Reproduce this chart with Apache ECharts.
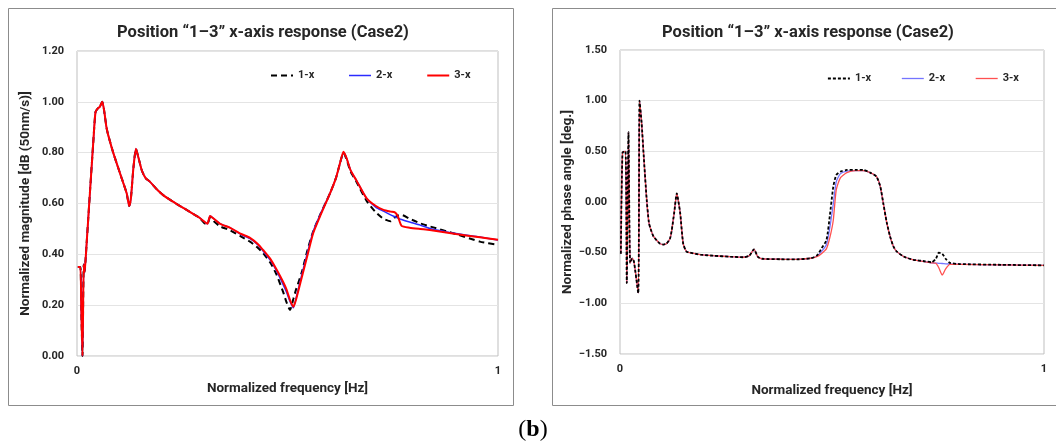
<!DOCTYPE html>
<html>
<head>
<meta charset="utf-8">
<script src="https://cdn.jsdelivr.net/npm/echarts@6/dist/echarts.min.js"></script>
<style>
html,body{margin:0;padding:0;background:#fff;}
#c{width:1056px;height:443px;}
</style>
</head>
<body>
<div id="c"></div>
<script>
// ---------- DATA ----------
const titleText = 'Position \u201C1\u20133\u201D x-axis response (Case2)';
const seriesNames = ['1-x', '2-x', '3-x'];

// Left chart: normalized magnitude
const magFreq = [0.002,0.008,0.010,0.013,0.016,0.018,0.020,0.031,0.039,0.044,0.050,0.054,0.060,0.064,0.070,0.074,0.086,0.106,0.118,0.124,0.128,0.134,0.140,0.146,0.154,0.163,0.173,0.190,0.204,0.225,0.245,0.270,0.290,0.305,0.310,0.316,0.325,0.340,0.363,0.390,0.411,0.430,0.442,0.460,0.474,0.490,0.498,0.506,0.514,0.520,0.534,0.548,0.561,0.580,0.601,0.615,0.625,0.633,0.640,0.650,0.664,0.688,0.710,0.728,0.745,0.755,0.762,0.771,0.790,0.815,0.838,0.900,0.957,1.000];
const mag1x = [0.35,0.35,0.20,0.00,0.36,0.33,0.37,0.65,0.85,0.96,0.975,0.98,1.00,0.97,0.90,0.87,0.80,0.70,0.64,0.59,0.62,0.74,0.815,0.78,0.73,0.70,0.686,0.655,0.634,0.61,0.59,0.565,0.545,0.52,0.52,0.545,0.53,0.51,0.495,0.47,0.45,0.425,0.405,0.365,0.32,0.25,0.21,0.181,0.225,0.26,0.33,0.42,0.49,0.565,0.64,0.70,0.76,0.80,0.775,0.725,0.685,0.61,0.565,0.54,0.53,0.545,0.553,0.555,0.54,0.522,0.51,0.48,0.45,0.437];
const mag2x = [0.35,0.35,0.20,0.00,0.36,0.33,0.37,0.65,0.85,0.96,0.975,0.98,1.00,0.97,0.90,0.87,0.80,0.70,0.64,0.59,0.62,0.74,0.815,0.78,0.73,0.70,0.686,0.655,0.634,0.61,0.59,0.565,0.545,0.525,0.52,0.551,0.54,0.52,0.505,0.478,0.462,0.437,0.413,0.375,0.335,0.28,0.25,0.215,0.19,0.225,0.32,0.41,0.49,0.565,0.64,0.70,0.76,0.80,0.78,0.73,0.69,0.62,0.585,0.57,0.555,0.548,0.543,0.537,0.527,0.515,0.502,0.482,0.468,0.456];
const mag3x = [0.35,0.35,0.20,0.00,0.36,0.33,0.37,0.65,0.85,0.96,0.975,0.98,1.00,0.97,0.90,0.87,0.80,0.70,0.64,0.59,0.62,0.74,0.815,0.78,0.73,0.70,0.686,0.655,0.634,0.61,0.59,0.565,0.545,0.525,0.52,0.551,0.54,0.52,0.505,0.48,0.465,0.44,0.417,0.38,0.34,0.29,0.26,0.22,0.194,0.22,0.31,0.40,0.483,0.56,0.64,0.70,0.76,0.804,0.78,0.73,0.69,0.62,0.59,0.575,0.568,0.565,0.55,0.512,0.505,0.50,0.496,0.48,0.467,0.457];

// Right chart: normalized phase angle
const phFreq = [0.002,0.006,0.013,0.016,0.020,0.024,0.029,0.033,0.043,0.046,0.051,0.056,0.063,0.068,0.071,0.079,0.094,0.102,0.110,0.118,0.122,0.128,0.134,0.138,0.142,0.149,0.157,0.165,0.190,0.220,0.260,0.291,0.305,0.316,0.325,0.335,0.380,0.417,0.450,0.464,0.475,0.487,0.495,0.503,0.510,0.520,0.535,0.555,0.574,0.590,0.605,0.614,0.621,0.629,0.637,0.645,0.653,0.670,0.692,0.720,0.735,0.745,0.752,0.760,0.768,0.778,0.800,0.900,1.000];
const ph1x = [-0.51,0.49,0.50,-0.80,0.69,-0.60,-0.556,-0.59,-0.90,1.00,0.78,0.45,0.02,-0.20,-0.25,-0.34,-0.41,-0.42,-0.41,-0.36,-0.28,-0.10,0.086,0.00,-0.11,-0.41,-0.49,-0.50,-0.52,-0.53,-0.54,-0.545,-0.53,-0.467,-0.54,-0.56,-0.565,-0.566,-0.555,-0.53,-0.46,-0.375,-0.13,0.15,0.266,0.30,0.316,0.318,0.316,0.29,0.25,0.15,-0.013,-0.20,-0.34,-0.44,-0.49,-0.54,-0.57,-0.585,-0.595,-0.56,-0.50,-0.51,-0.56,-0.60,-0.612,-0.62,-0.625];
const ph2x = [-0.51,0.49,0.50,-0.80,0.69,-0.60,-0.556,-0.59,-0.90,1.00,0.78,0.45,0.02,-0.20,-0.25,-0.34,-0.41,-0.42,-0.41,-0.36,-0.28,-0.10,0.086,0.00,-0.11,-0.41,-0.49,-0.50,-0.52,-0.53,-0.54,-0.545,-0.53,-0.467,-0.54,-0.56,-0.565,-0.566,-0.555,-0.535,-0.49,-0.42,-0.25,-0.02,0.20,0.28,0.305,0.31,0.31,0.29,0.25,0.15,-0.013,-0.20,-0.34,-0.44,-0.49,-0.54,-0.57,-0.59,-0.60,-0.603,-0.605,-0.607,-0.61,-0.612,-0.614,-0.62,-0.625];
const ph3x = [-0.51,0.49,0.50,-0.80,0.69,-0.60,-0.556,-0.59,-0.90,1.00,0.78,0.45,0.02,-0.20,-0.25,-0.34,-0.41,-0.42,-0.41,-0.36,-0.28,-0.10,0.086,0.00,-0.11,-0.41,-0.49,-0.50,-0.52,-0.53,-0.54,-0.545,-0.53,-0.467,-0.54,-0.56,-0.565,-0.566,-0.555,-0.54,-0.51,-0.46,-0.35,-0.18,0.12,0.24,0.29,0.31,0.31,0.29,0.25,0.15,-0.013,-0.20,-0.34,-0.44,-0.49,-0.54,-0.57,-0.59,-0.60,-0.605,-0.65,-0.72,-0.66,-0.615,-0.615,-0.62,-0.625];

const magTicks = {min: 0, max: 1.2, interval: 0.2};
const phTicks = {min: -1.5, max: 1.5, interval: 0.5};
const freqTicks = {min: 0, max: 1, interval: 1};

const magYName = 'Normalized magnitude [dB (50nm/s)]';
const phYName = 'Normalized phase angle [deg.]';
const xName = 'Normalized frequency [Hz]';
// ---------- END DATA ----------

function zip(xs, ys) { return xs.map((x, i) => [x, ys[i]]); }
const FONT = 'Roboto';
const txt = '#262626';
const fmtY = v => (v < 0 ? '\u2212' : '') + Math.abs(v).toFixed(2);

function xAxisCfg(idx, gap) {
  return {
    gridIndex: idx, type: 'value', min: freqTicks.min, max: freqTicks.max, interval: freqTicks.interval,
    name: xName, nameLocation: 'middle', nameGap: gap,
    nameTextStyle: {fontFamily: FONT, fontWeight: 'bold', fontSize: 13.5, color: txt},
    axisLine: {show: false}, axisTick: {show: false}, splitLine: {show: false},
    axisLabel: {fontFamily: FONT, fontWeight: 'bold', fontSize: 11, color: txt, margin: 10}
  };
}
function yAxisCfg(idx, t, name, gap) {
  return {
    gridIndex: idx, type: 'value', min: t.min, max: t.max, interval: t.interval,
    name: name, nameLocation: 'middle', nameGap: gap, nameRotate: 90,
    nameTextStyle: {fontFamily: FONT, fontWeight: 'bold', fontSize: 13.5, color: txt},
    axisLine: {show: false}, axisTick: {show: false},
    splitLine: {lineStyle: {color: '#e4e4e4', width: 1}},
    axisLabel: {fontFamily: FONT, fontWeight: 'bold', fontSize: 11, color: txt, margin: 13, formatter: fmtY}
  };
}

const leftStyles = [
  {color: '#000000', width: 2, type: [6, 4]},
  {color: '#2b2bff', width: 1.5, type: 'solid'},
  {color: '#ff0000', width: 2, type: 'solid'}
];
const rightStyles = [
  {color: '#000000', width: 1.8, type: [3, 2]},
  {color: '#7474ff', width: 1.3, type: 'solid'},
  {color: '#ff5050', width: 1.3, type: 'solid'}
];

const magData = [mag1x, mag2x, mag3x];
const phData = [ph1x, ph2x, ph3x];
const series = [];
seriesNames.forEach((n, i) => {
  series.push({
    name: n, type: 'line', xAxisIndex: 0, yAxisIndex: 0, symbol: 'none', animation: false, smooth: 0.2,
    data: zip(magFreq, magData[i]), lineStyle: leftStyles[i], itemStyle: {color: leftStyles[i].color},
    z: 2 + i
  });
});
seriesNames.forEach((n, i) => {
  series.push({
    name: n, type: 'line', xAxisIndex: 1, yAxisIndex: 1, symbol: 'none', animation: false, smooth: 0.2,
    data: zip(phFreq, phData[i]), lineStyle: rightStyles[i], itemStyle: {color: rightStyles[i].color},
    z: i === 0 ? 6 : 2 + i
  });
});

const legendText = {fontFamily: FONT, fontWeight: 'bold', fontSize: 11, color: txt};
const option = {
  backgroundColor: '#ffffff',
  animation: false,
  title: [
    {text: titleText, left: 258, top: 19, textAlign: 'center',
     textStyle: {fontFamily: FONT, fontWeight: 'bold', fontSize: 16.5, color: txt}},
    {text: titleText, left: 803, top: 19, textAlign: 'center',
     textStyle: {fontFamily: FONT, fontWeight: 'bold', fontSize: 16.5, color: txt}},
    {text: '({b|b})', left: 528, top: 413, textAlign: 'center',
     textStyle: {fontFamily: 'Liberation Serif', fontWeight: 'normal', fontSize: 24, color: '#000',
       rich: {b: {fontFamily: 'Liberation Serif', fontWeight: 'bold', fontSize: 24, color: '#000'}}}}
  ],
  legend: [
    {left: 265, top: 65, itemWidth: 22, itemHeight: 10, itemGap: 34, textStyle: legendText,
     data: seriesNames.map((n, i) => ({name: n, lineStyle: leftStyles[i], itemStyle: {color: leftStyles[i].color, opacity: 0}}))},
    {left: 822, top: 68, itemWidth: 22, itemHeight: 10, itemGap: 30, textStyle: legendText,
     data: seriesNames.map((n, i) => ({name: n, lineStyle: rightStyles[i], itemStyle: {color: rightStyles[i].color, opacity: 0}}))}
  ],
  grid: [
    {left: 77, top: 51, width: 421, height: 305, show: true, borderColor: '#bfbfbf', borderWidth: 1, containLabel: false},
    {left: 620, top: 50, width: 424, height: 304, show: true, borderColor: '#bfbfbf', borderWidth: 1, containLabel: false}
  ],
  xAxis: [xAxisCfg(0, 26), xAxisCfg(1, 30)],
  yAxis: [yAxisCfg(0, magTicks, magYName, 44), yAxisCfg(1, phTicks, phYName, 40)],
  graphic: [
    {type: 'rect', shape: {x: 8.5, y: 8.5, width: 505, height: 397}, style: {fill: 'none', stroke: '#8c8c8c', lineWidth: 1}, silent: true},
    {type: 'rect', shape: {x: 552.5, y: 8.5, width: 510, height: 397}, style: {fill: 'none', stroke: '#8c8c8c', lineWidth: 1}, silent: true}
  ],
  series: series
};
const chart = echarts.init(document.getElementById('c'), null, {renderer: 'canvas'});
chart.setOption(option);
</script>
</body>
</html>
